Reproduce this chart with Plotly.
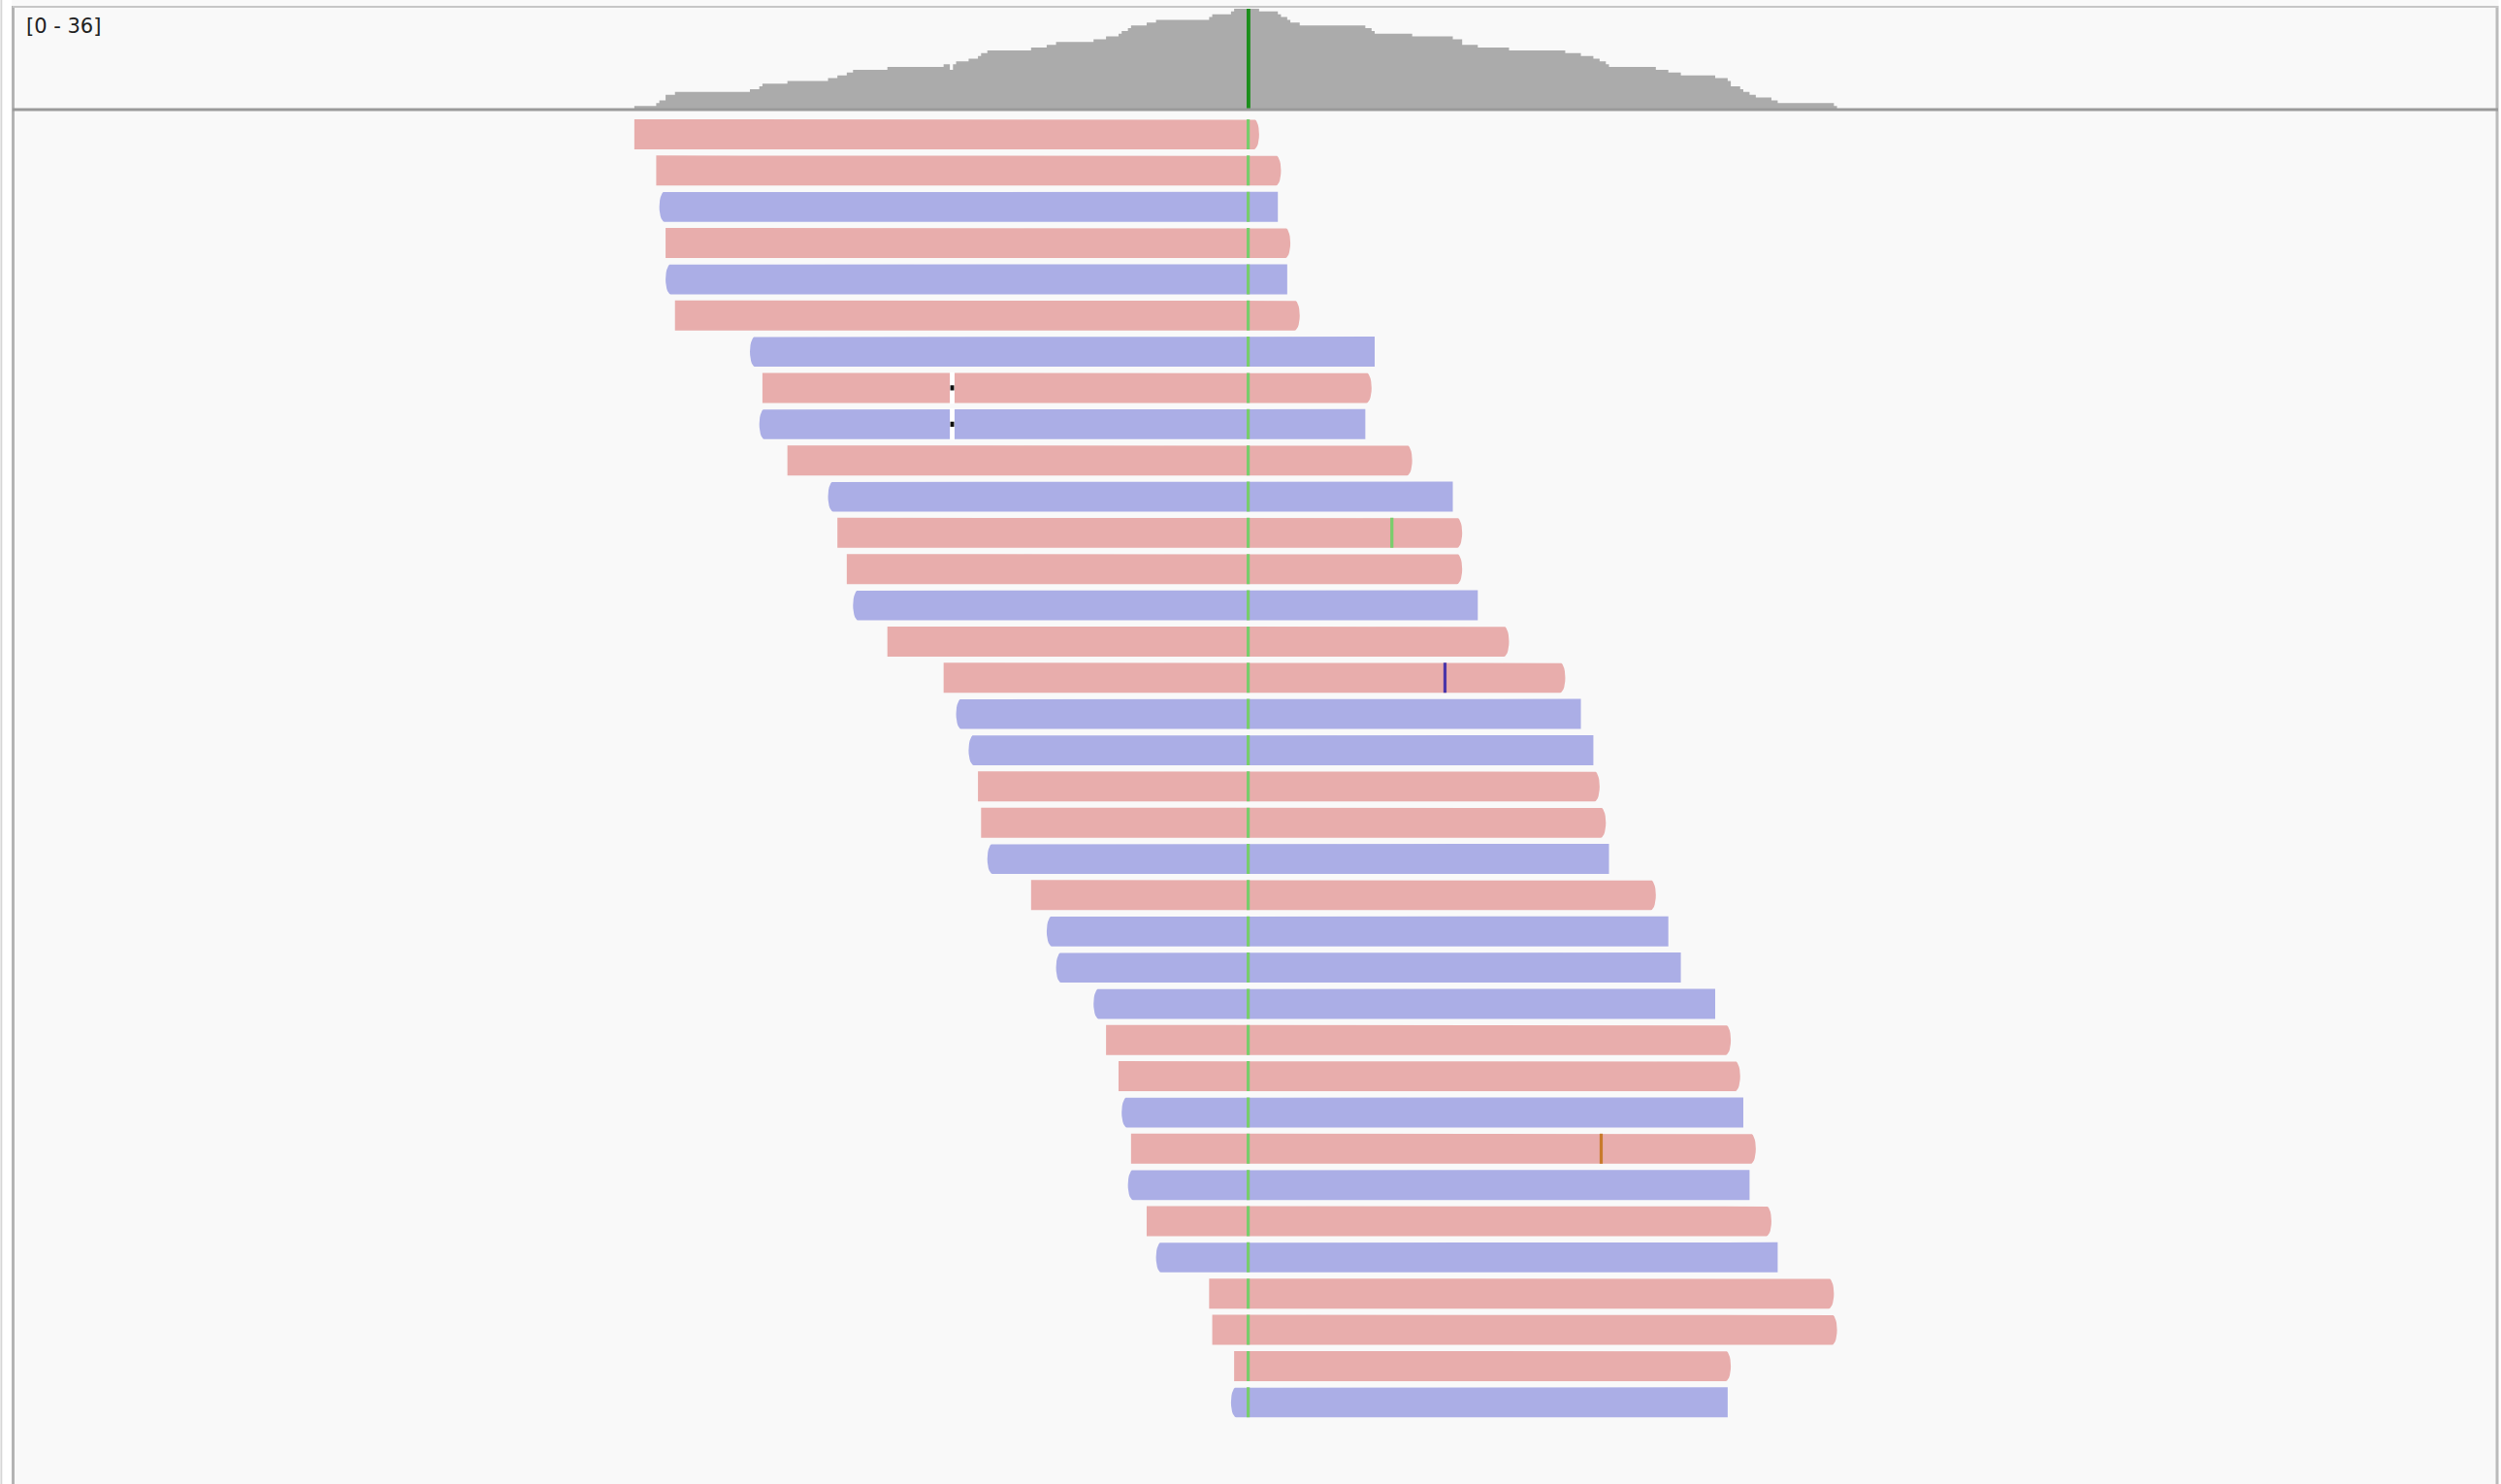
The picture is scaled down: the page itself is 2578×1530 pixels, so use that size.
import numpy as np
import plotly.graph_objects as go

# ---------------- data (positions in bp relative to the SNP) ----------------
read_start = [-196, -189, -188, -186, -186, -183, -159, -155, -156, -147, -134, -131,
              -128, -126, -115, -97, -93, -89, -86, -85, -83, -69, -64, -61,
              -49, -45, -41, -40, -37, -38, -32, -29, -12, -11, -4, -5]
read_end = [4, 11, 10, 14, 13, 17, 41, 40, 38, 53, 66, 69,
            69, 74, 84, 102, 107, 111, 113, 115, 116, 131, 135, 139,
            150, 155, 158, 159, 163, 161, 168, 170, 188, 189, 155, 154]
read_strand = ["+", "+", "-", "+", "-", "+", "-", "+", "-", "+", "-", "+",
               "+", "-", "+", "+", "-", "-", "+", "+", "-", "+", "-", "-",
               "-", "+", "+", "-", "+", "-", "+", "-", "+", "+", "+", "-"]

snp_pos = 0
snp_base = "A"
mm_read = [11, 15, 28]
mm_pos = [46, 63, 113]
mm_base = ["A", "C", "G"]
del_read = [7, 8]
del_pos = [-95, -95]

coverage_label = "[0 - 36]"

# ---------------- styling ----------------
W, H = 2578, 1530
PX_PER_BP = 3.22
X0_PX = 1285.0
ROW0_PX, ROW_PX = 138.5, 37.35
HALF = 0.415
TIP = 1.6
COL_FWD = "#e8adac"
COL_REV = "#abaee6"
READ_BASE_COL = {"A": "#78cd6c", "C": "#4a35a8", "G": "#c87a2c", "T": "#d33"}
COV_COL = "#ababab"
COV_BASE_COL = {"A": "#1b8e1b"}
COV_BASE_PX = 112.0
COV_TOP_PX = 9.0

x_range = [-X0_PX / PX_PER_BP, (W - X0_PX) / PX_PER_BP]
y_range = [(H - ROW0_PX) / ROW_PX, -ROW0_PX / ROW_PX]
cov_max = 36
cov_scale = (COV_BASE_PX - COV_TOP_PX) / cov_max
cov_range = [0, COV_BASE_PX / cov_scale]
cov_domain = [1 - COV_BASE_PX / H, 1]


def read_poly(s, e, y, strand):
    t = np.linspace(-np.pi / 2, np.pi / 2, 15)
    xs, ys = [], []
    if strand == "+":
        xs += [s, e - TIP]
        ys += [y - HALF, y - HALF]
        xs += list(e - TIP + TIP * np.cos(t))
        ys += list(y + HALF * np.sin(t))
        xs += [e - TIP, s, s]
        ys += [y + HALF, y + HALF, y - HALF]
    else:
        xs += [e, s + TIP]
        ys += [y - HALF, y - HALF]
        xs += list(s + TIP - TIP * np.cos(t))
        ys += list(y + HALF * np.sin(t))
        xs += [s + TIP, e, e]
        ys += [y + HALF, y + HALF, y - HALF]
    return xs + [None], ys + [None]


def rect(x0, x1, y0, y1):
    return [x0, x1, x1, x0, x0, None], [y0, y0, y1, y1, y0, None]


fig = go.Figure()

# reads
for strand, col in (("+", COL_FWD), ("-", COL_REV)):
    X, Y = [], []
    for i, (s, e, st) in enumerate(zip(read_start, read_end, read_strand)):
        if st != strand:
            continue
        px, py = read_poly(s, e, i, st)
        X += px
        Y += py
    fig.add_trace(go.Scatter(x=X, y=Y, mode="lines", fill="toself", fillcolor=col,
                             line=dict(width=0, color=col), hoverinfo="skip",
                             xaxis="x", yaxis="y", showlegend=False))

# deletions (white gap + black dot)
X, Y, BX, BY = [], [], [], []
for r, p in zip(del_read, del_pos):
    a, b = rect(p, p + 1.5, r - HALF - 0.02, r + HALF + 0.02)
    X += a; Y += b
    a, b = rect(p + 0.15, p + 1.35, r - 0.07, r + 0.07)
    BX += a; BY += b
fig.add_trace(go.Scatter(x=X, y=Y, mode="lines", fill="toself", fillcolor="#ffffff",
                         line=dict(width=0), hoverinfo="skip", showlegend=False))
fig.add_trace(go.Scatter(x=BX, y=BY, mode="lines", fill="toself", fillcolor="#111111",
                         line=dict(width=0), hoverinfo="skip", showlegend=False))

# mismatches
mm_all = [(i, snp_pos, snp_base) for i in range(len(read_start))] + list(zip(mm_read, mm_pos, mm_base))
for base in sorted(set(b for _, _, b in mm_all)):
    X, Y = [], []
    for r, p, b in mm_all:
        if b != base:
            continue
        a, c = rect(p, p + 1, r - HALF, r + HALF)
        X += a; Y += c
    fig.add_trace(go.Scatter(x=X, y=Y, mode="lines", fill="toself",
                             fillcolor=READ_BASE_COL[base], line=dict(width=0),
                             hoverinfo="skip", showlegend=False))

# coverage computed from reads
pos = np.arange(-400, 403)
cov = np.zeros(len(pos))
for i, (s, e) in enumerate(zip(read_start, read_end)):
    cov += ((pos >= s) & (pos < e)).astype(float)
for r, p in zip(del_read, del_pos):
    cov -= (pos == p).astype(float)
fig.add_trace(go.Scatter(x=pos, y=cov, mode="lines", line_shape="hv", fill="tozeroy",
                         fillcolor=COV_COL, line=dict(width=0, color=COV_COL),
                         hoverinfo="skip", xaxis="x", yaxis="y2", showlegend=False))
snp_cov = cov[pos == snp_pos][0]
a, b = rect(snp_pos, snp_pos + 1.2, 0, snp_cov)
fig.add_trace(go.Scatter(x=a, y=b, mode="lines", fill="toself", fillcolor=COV_BASE_COL[snp_base],
                         line=dict(width=0), hoverinfo="skip", xaxis="x", yaxis="y2",
                         showlegend=False))


def px_x(p):
    return p / W


def px_y(p):
    return 1 - p / H


shapes = [
    dict(type="line", xref="paper", yref="paper", x0=px_x(1.5), x1=px_x(1.5), y0=0, y1=1,
         line=dict(color="#d6d6d6", width=2)),
    dict(type="rect", xref="paper", yref="paper", x0=px_x(2.5), x1=px_x(12), y0=0, y1=1,
         fillcolor="#ffffff", line=dict(width=0)),
    dict(type="line", xref="paper", yref="paper", x0=px_x(13.5), x1=px_x(13.5), y0=0, y1=px_y(6),
         line=dict(color="#b3b3b3", width=3)),
    dict(type="rect", xref="paper", yref="paper", x0=px_x(2575.5), x1=1, y0=0, y1=1,
         fillcolor="#ffffff", line=dict(width=0)),
    dict(type="line", xref="paper", yref="paper", x0=px_x(2574), x1=px_x(2574), y0=0, y1=px_y(6),
         line=dict(color="#bbbbbb", width=3)),
    dict(type="line", xref="paper", yref="paper", x0=px_x(13), x1=px_x(2575), y0=px_y(7), y1=px_y(7),
         line=dict(color="#c6c6c6", width=2)),
    dict(type="line", xref="paper", yref="paper", x0=px_x(13), x1=px_x(2575),
         y0=px_y(COV_BASE_PX + 1), y1=px_y(COV_BASE_PX + 1),
         line=dict(color="#9a9a9a", width=3)),
]

fig.update_layout(
    width=W, height=H, autosize=False,
    margin=dict(l=0, r=0, t=0, b=0, pad=0),
    paper_bgcolor="#f9f9f9", plot_bgcolor="rgba(0,0,0,0)",
    showlegend=False,
    xaxis=dict(range=x_range, visible=False, fixedrange=True),
    yaxis=dict(range=y_range, visible=False, domain=[0, 1], fixedrange=True),
    yaxis2=dict(range=cov_range, visible=False, domain=cov_domain, anchor="x", fixedrange=True),
    shapes=shapes,
    annotations=[dict(text=coverage_label, xref="paper", yref="paper",
                      x=px_x(25), y=px_y(13), xanchor="left", yanchor="top",
                      showarrow=False, font=dict(family="DejaVu Sans", size=21, color="#222222"))],
)

fig.write_html("out.html", config={"displayModeBar": False},
               post_script="document.body.style.margin='0';document.body.style.overflow='hidden';")
